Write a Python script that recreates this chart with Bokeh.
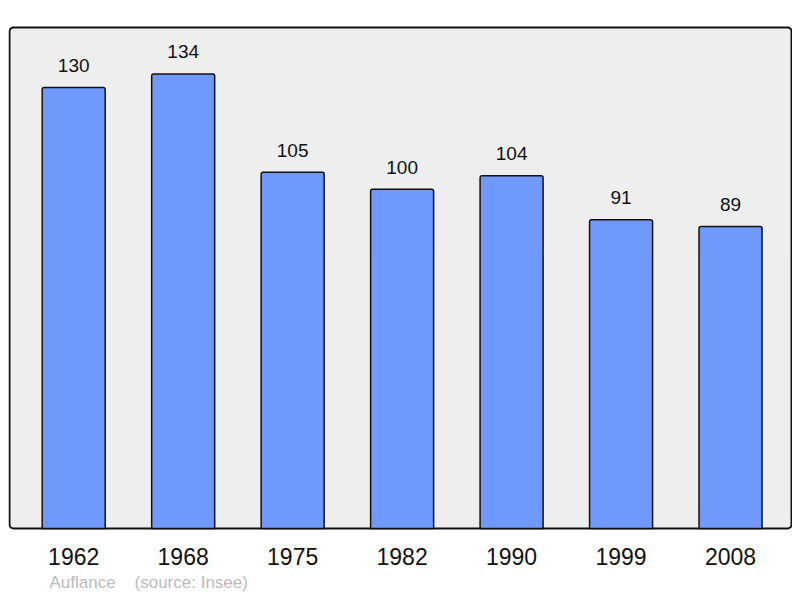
from bokeh.plotting import figure
from bokeh.models import ColumnDataSource, FixedTicker, BoxAnnotation, Title, Range1d
from bokeh.core.properties import value
from bokeh.embed import file_html
from bokeh.resources import INLINE

years = ["1962", "1968", "1975", "1982", "1990", "1999", "2008"]
population = [130, 134, 105, 100, 104, 91, 89]
commune = "Auflance"
source_note = "(source: Insee)"

FONT = "Liberation Sans"
idx = list(range(len(years)))
src = ColumnDataSource(dict(x=idx, top=population,
                            lbl=[str(v) for v in population]))

p = figure(width=792, height=596, output_backend="svg", toolbar_location=None,
           x_range=Range1d(-0.5956, 6.566), y_range=Range1d(-0.59, 153.3),
           y_axis_location=None, min_border_left=8, min_border_right=0,
           min_border_top=8, min_border_bottom=66)
p.outline_line_color = None
p.xgrid.visible = False
p.ygrid.visible = False
p.background_fill_color = "white"
p.border_fill_color = "white"

frame_box = BoxAnnotation(left=-0.5865, right=6.557, bottom=0, top=147.7,
                          fill_color="#eeeeee", fill_alpha=1.0,
                          line_color="#111111", line_width=2, line_alpha=1.0,
                          border_radius=4, level="underlay")
p.add_layout(frame_box)

p.vbar(x="x", top="top", bottom=0, width=0.5755, source=src,
       fill_color="#7099ff", line_color="#111111", line_width=1.5,
       border_radius=dict(top_left=2, top_right=2, bottom_left=0, bottom_right=0))

p.text(x="x", y="top", text="lbl", source=src, y_offset=-22,
       text_align="center", text_baseline="alphabetic",
       text_font=value(FONT), text_font_size="19px", text_color="#111111")

ax = p.xaxis[0]
ax.ticker = FixedTicker(ticks=idx)
ax.major_label_overrides = {i: y for i, y in zip(idx, years)}
ax.axis_line_color = None
ax.major_tick_line_color = None
ax.minor_tick_line_color = None
ax.major_label_standoff = 11
ax.major_label_text_font = FONT
ax.major_label_text_font_size = "23px"
ax.major_label_text_color = "#111111"

note = Title(text=commune + "\u00a0\u00a0\u00a0\u00a0" + source_note,
             align="left", offset=41, standoff=6,
             text_font=FONT, text_font_size="17px", text_font_style="normal",
             text_color="#bbbbbb")
p.add_layout(note, "below")

open("out.html", "w").write(file_html(p, INLINE))
